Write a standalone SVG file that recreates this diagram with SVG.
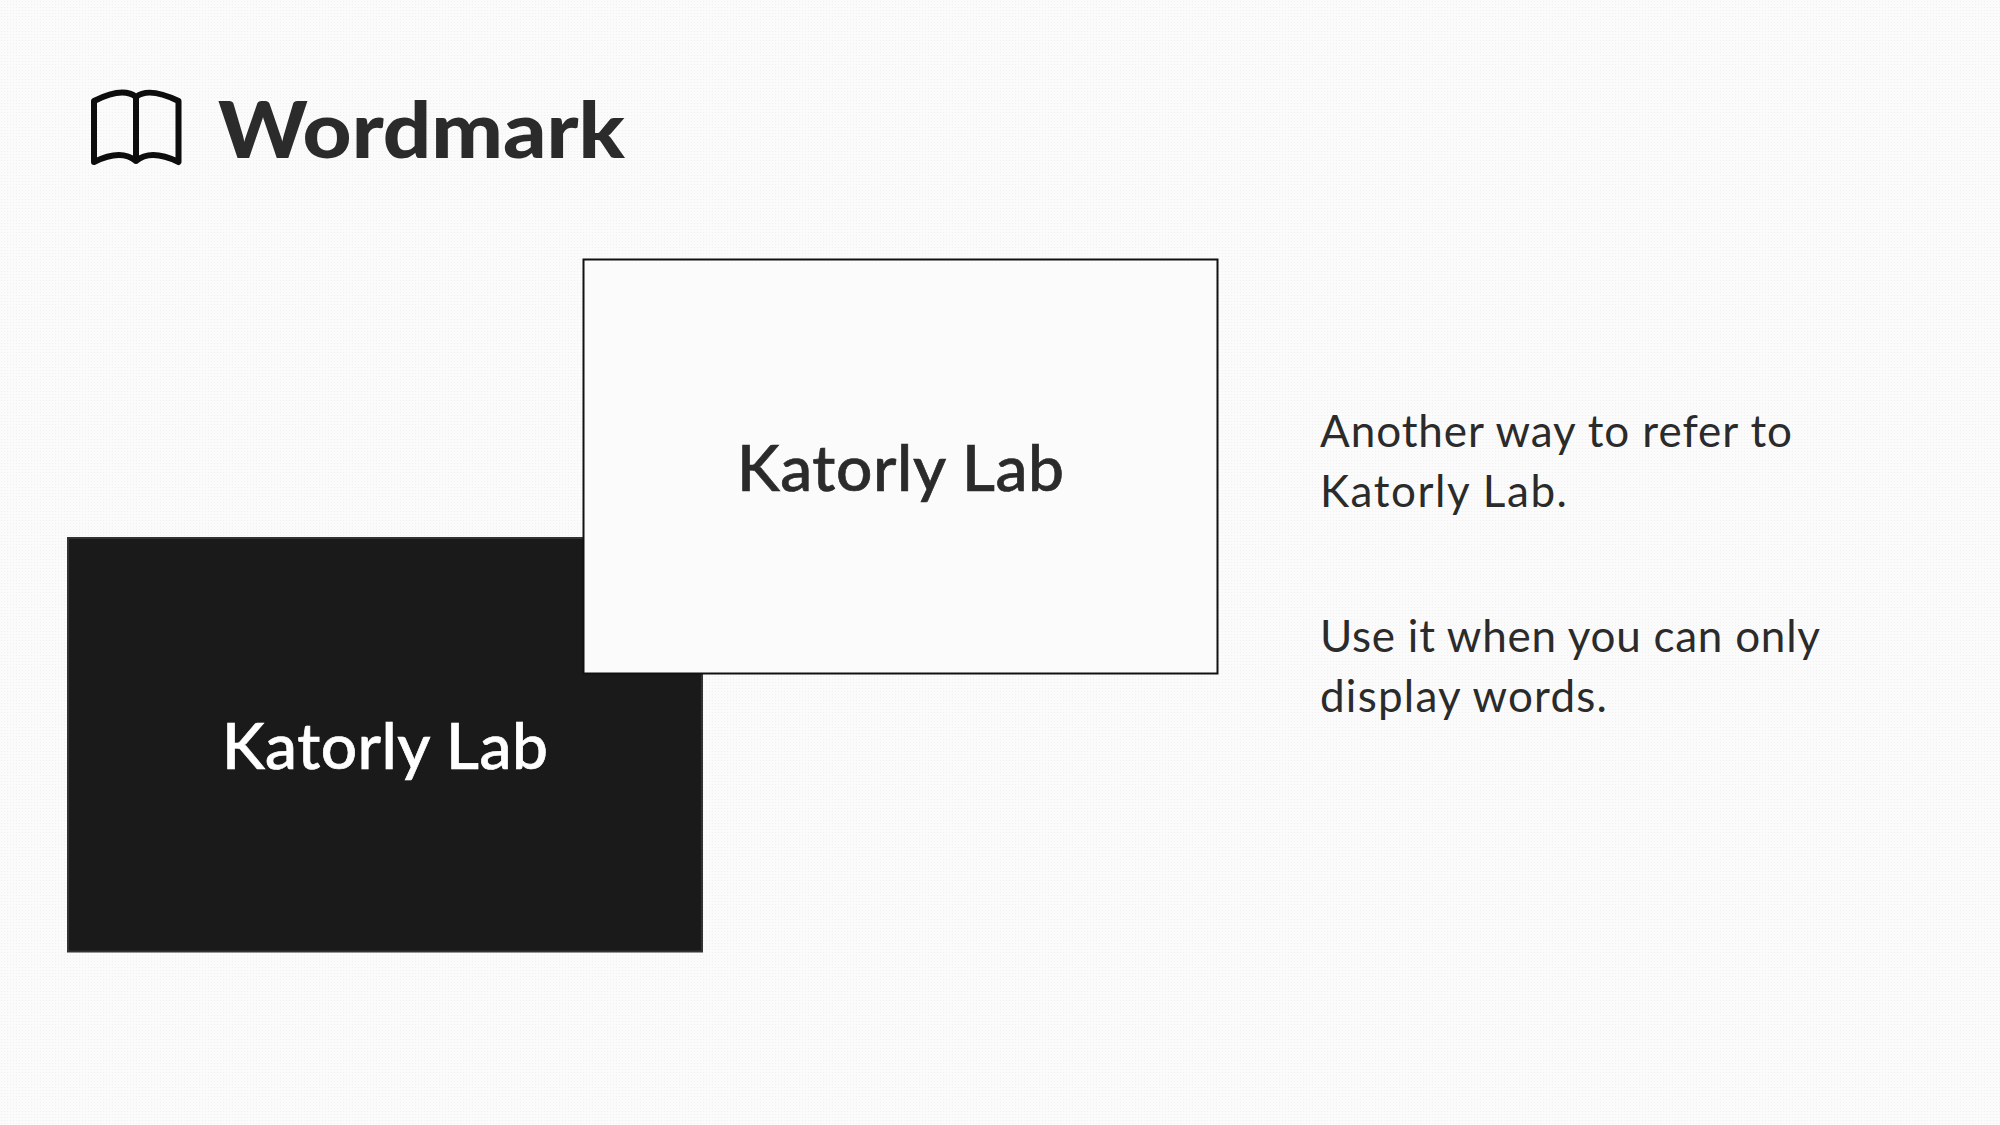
<svg xmlns="http://www.w3.org/2000/svg" width="2000" height="1125" viewBox="0 0 2000 1125">
<style>
text{font-family:"Lato","Noto Sans","Liberation Sans",sans-serif;fill:#2b2b2b}
.title{font-size:78px;font-weight:900}
.logo{font-size:64px;font-weight:500;stroke-width:.7px}
.body{font-size:44px;font-weight:400}
</style>
<defs>
<pattern id="grain" width="3" height="3" patternUnits="userSpaceOnUse"><rect width="3" height="3" fill="#fbfbfb"/><rect x="1" y="1" width="1" height="1" fill="#f1f1f1"/></pattern>
</defs>
<rect id="background" width="2000" height="1125" fill="url(#grain)"/>
<g id="header">
<path d="M94 101V162C108 155 124 151 136 161C148 151 164 155 178.500 162V101C164 94 147 88 136 97C125 88 108 94 94 101ZM136 97V161" fill="none" stroke="#0d0d0d" stroke-width="6" stroke-linejoin="round" stroke-linecap="round"/>
<text class="title" x="218" y="158" textLength="407" lengthAdjust="spacingAndGlyphs">Wordmark</text>
</g>
<g id="dark-card">
<rect x="68" y="538" width="634" height="413.500" fill="#1a1a1a" stroke="#333" stroke-width="2"/>
<text class="logo" x="222" y="769" textLength="326" style="fill:#fff;stroke:#fff">Katorly Lab</text>
</g>
<g id="light-card">
<rect x="583.500" y="259.500" width="634" height="414" fill="#fbfbfb" stroke="#111" stroke-width="2"/>
<text class="logo" x="737" y="491" textLength="327" style="stroke:#2b2b2b">Katorly Lab</text>
</g>
<g id="description">
<text class="body" x="1320" y="447" textLength="472">Another way to refer to</text>
<text class="body" x="1320" y="507" textLength="247">Katorly Lab.</text>
<text class="body" x="1320" y="652" textLength="500">Use it when you can only</text>
<text class="body" x="1320" y="712" textLength="287">display words.</text>
</g>
</svg>
